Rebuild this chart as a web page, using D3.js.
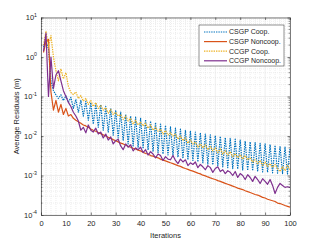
<!DOCTYPE html>
<html>
<head>
<meta charset="utf-8">
<script src="https://cdn.jsdelivr.net/npm/d3@7"></script>
<style>
  body { margin: 0; background: #fff; }
  text { font-family: "Liberation Sans", Arial, sans-serif; fill: #262626; }
</style>
</head>
<body>
<svg id="chart" width="321" height="241"></svg>
<script>
const W = 321, H = 241
const margin = { top: 17.5, left: 41, right: 31, bottom: 26 }

const seriesNames = ['CSGP Coop.', 'CSGP Noncoop.', 'CCGP Coop.', 'CCGP Noncoop.']
const colors = ['#0072BD', '#D95319', '#EDB120', '#7E2F8E']
const dashes = ['1.4,1', null, '1.4,1', null]
const xTicks = [0, 10, 20, 30, 40, 50, 60, 70, 80, 90, 100]
const yTickExp = [-4, -3, -2, -1, 0, 1]

const iterations = d3.range(1, 101)

// CSGP Coop. (dotted blue)
const csgpCoop = [
  1.8, 2.5, 1.6, 0.25, 0.14, 0.11, 0.089, 0.11, 0.079, 0.105,
  0.071, 0.095, 0.05, 0.085, 0.04, 0.08, 0.032, 0.075, 0.025, 0.07,
  0.02, 0.066, 0.0166, 0.062, 0.014, 0.056, 0.0126, 0.05, 0.0105, 0.045,
  0.0089, 0.04, 0.0076, 0.035, 0.0063, 0.032, 0.0056, 0.03, 0.0052, 0.028,
  0.0048, 0.026, 0.0044, 0.024, 0.004, 0.022, 0.0038, 0.02, 0.0035, 0.0186,
  0.0033, 0.017, 0.0032, 0.0158, 0.0029, 0.015, 0.0027, 0.014, 0.0025, 0.0135,
  0.0024, 0.0126, 0.0022, 0.012, 0.0021, 0.0112, 0.00195, 0.0107, 0.00186, 0.0102,
  0.00178, 0.0098, 0.00166, 0.0091, 0.00158, 0.0087, 0.0015, 0.0083, 0.00145, 0.0079,
  0.00138, 0.0074, 0.00135, 0.0071, 0.00132, 0.0068, 0.00126, 0.0065, 0.00123, 0.0063,
  0.0012, 0.006, 0.00117, 0.0058, 0.00115, 0.0055, 0.00112, 0.0052, 0.0011, 0.005
]

// CSGP Noncoop. (solid orange)
const csgpNoncoop = [
  1.3, 2.5, 2.8, 0.13, 0.045, 0.08, 0.04, 0.063, 0.035, 0.05,
  0.032, 0.035, 0.028, 0.025, 0.023, 0.021, 0.019, 0.018, 0.0166, 0.015,
  0.014, 0.0132, 0.0123, 0.0115, 0.0107, 0.01, 0.0093, 0.0087, 0.0081, 0.0076,
  0.0071, 0.0066, 0.0063, 0.0059, 0.0055, 0.0052, 0.0049, 0.0047, 0.0044, 0.0042,
  0.0039, 0.0036, 0.0035, 0.0032, 0.0031, 0.0029, 0.0028, 0.0026, 0.00245, 0.00234,
  0.00222, 0.0021, 0.002, 0.00188, 0.00178, 0.0017, 0.00158, 0.0015, 0.00143, 0.00135,
  0.00129, 0.00122, 0.00115, 0.0011, 0.00102, 9.8e-4, 9.2e-4, 8.7e-4, 8.3e-4, 7.9e-4,
  7.4e-4, 7.1e-4, 6.7e-4, 6.3e-4, 6.0e-4, 5.7e-4, 5.4e-4, 5.1e-4, 4.8e-4, 4.6e-4,
  4.4e-4, 4.1e-4, 3.9e-4, 3.7e-4, 3.5e-4, 3.3e-4, 3.2e-4, 3.0e-4, 2.8e-4, 2.7e-4,
  2.5e-4, 2.4e-4, 2.3e-4, 2.2e-4, 2.0e-4, 1.95e-4, 1.84e-4, 1.74e-4, 1.66e-4, 1.58e-4
]

// CCGP Coop. (dotted yellow)
const ccgpCoop = [
  2.0, 4.5, 1.8, 3.5, 1.0, 0.45, 0.25, 0.5, 0.28, 0.4,
  0.18, 0.126, 0.112, 0.13, 0.089, 0.105, 0.076, 0.089, 0.063, 0.079,
  0.056, 0.07, 0.05, 0.06, 0.045, 0.052, 0.038, 0.047, 0.035, 0.04,
  0.032, 0.035, 0.026, 0.032, 0.024, 0.028, 0.02, 0.025, 0.019, 0.022,
  0.018, 0.021, 0.0158, 0.019, 0.014, 0.0166, 0.0132, 0.015, 0.0112, 0.0138,
  0.0105, 0.012, 0.01, 0.0112, 0.0083, 0.01, 0.0076, 0.0089, 0.0066, 0.0079,
  0.0063, 0.0071, 0.0052, 0.0063, 0.005, 0.006, 0.0045, 0.0054, 0.0042, 0.005,
  0.0038, 0.0047, 0.0035, 0.0042, 0.0033, 0.004, 0.003, 0.0036, 0.0028, 0.0034,
  0.0026, 0.0032, 0.0025, 0.0028, 0.0022, 0.0025, 0.002, 0.0024, 0.0018, 0.0022,
  0.0017, 0.002, 0.0016, 0.0019, 0.0015, 0.00126, 0.00166, 0.00132, 0.0018, 0.0014
]

// CCGP Noncoop. (solid purple)
const ccgpNoncoop = [
  1.4, 4.0, 0.1, 1.0, 0.16, 0.35, 0.45, 0.25, 0.14, 0.1,
  0.071, 0.056, 0.04, 0.032, 0.024, 0.014, 0.0166, 0.012, 0.019, 0.014,
  0.0126, 0.0158, 0.0112, 0.0126, 0.0089, 0.0112, 0.0079, 0.0095, 0.0063, 0.0076,
  0.0083, 0.0056, 0.0045, 0.0063, 0.0052, 0.006, 0.0042, 0.005, 0.0045, 0.0052,
  0.0038, 0.0045, 0.0033, 0.004, 0.0035, 0.0028, 0.0035, 0.0032, 0.0024, 0.003,
  0.0026, 0.0025, 0.0032, 0.0024, 0.002, 0.0026, 0.0022, 0.0025, 0.00178, 0.0021,
  0.0019, 0.0022, 0.00158, 0.0019, 0.00166, 0.0014, 0.00178, 0.00158, 0.0012, 0.0015,
  0.00166, 0.00126, 0.0014, 0.00112, 0.00132, 0.0012, 0.001, 0.00126, 8.9e-4, 0.00112,
  0.001, 7.9e-4, 0.00105, 8.9e-4, 7.1e-4, 9.5e-4, 7.9e-4, 6.3e-4, 8.3e-4, 7.1e-4,
  6.0e-4, 7.9e-4, 5.6e-4, 3.5e-4, 5.0e-4, 6.3e-4, 5.6e-4, 5.0e-4, 5.2e-4, 5.0e-4
]

const allSeries = [csgpCoop, csgpNoncoop, ccgpCoop, ccgpNoncoop]

const axisColor = '#262626'
const font = '"Liberation Sans", Arial, sans-serif'

const svg = d3.select('#chart')
svg.append('rect').attr('width', W).attr('height', H).attr('fill', '#fff')

const x = d3.scaleLinear()
  .domain([0, 100])
  .range([margin.left, W - margin.right])
const y = d3.scaleLog()
  .domain([1e-4, 10])
  .range([H - margin.bottom, margin.top])

const x0 = x.range()[0], x1 = x.range()[1]
const y0 = y.range()[0], y1 = y.range()[1]

// minor grid
const yMinor = []
yTickExp.slice(0, -1).forEach(e => {
  for (let k = 2; k <= 9; k++) yMinor.push(k * Math.pow(10, e))
})
const xMinor = d3.range(0, 101, 2).filter(v => v % 10 !== 0)

const grid = svg.append('g')
grid.selectAll('.ymin').data(yMinor).join('line')
  .attr('x1', x0).attr('x2', x1)
  .attr('y1', d => y(d)).attr('y2', d => y(d))
  .attr('stroke', '#dcdcdc').attr('stroke-width', 0.5)
  .attr('stroke-dasharray', '1,1')
grid.selectAll('.xmin').data(xMinor).join('line')
  .attr('y1', y0).attr('y2', y1)
  .attr('x1', d => x(d)).attr('x2', d => x(d))
  .attr('stroke', '#dcdcdc').attr('stroke-width', 0.5)
  .attr('stroke-dasharray', '1,1')
// major grid
grid.selectAll('.ymaj').data(yTickExp).join('line')
  .attr('x1', x0).attr('x2', x1)
  .attr('y1', d => y(Math.pow(10, d))).attr('y2', d => y(Math.pow(10, d)))
  .attr('stroke', '#e2e2e2').attr('stroke-width', 0.6)
grid.selectAll('.xmaj').data(xTicks).join('line')
  .attr('y1', y0).attr('y2', y1)
  .attr('x1', d => x(d)).attr('x2', d => x(d))
  .attr('stroke', '#e2e2e2').attr('stroke-width', 0.6)

// series
const line = d3.line()
  .x((d, i) => x(iterations[i]))
  .y(d => y(d))

svg.append('g').selectAll('path').data(allSeries).join('path')
  .attr('d', line)
  .attr('fill', 'none')
  .attr('stroke', (d, i) => colors[i])
  .attr('stroke-width', 1.2)
  .attr('stroke-dasharray', (d, i) => dashes[i])
  .attr('stroke-linejoin', 'round')

// axes (ticks inward, box on)
const xAxis = svg.append('g')
  .attr('transform', `translate(0,${y0})`)
  .call(d3.axisBottom(x).tickValues(xTicks).tickSizeInner(-2.5).tickSizeOuter(0).tickPadding(6))
const xTop = svg.append('g')
  .attr('transform', `translate(0,${y1})`)
  .call(d3.axisTop(x).tickValues(xTicks).tickSizeInner(-2.5).tickSizeOuter(0).tickFormat(''))
const yAxis = svg.append('g')
  .attr('transform', `translate(${x0},0)`)
  .call(d3.axisLeft(y).tickValues(yTickExp.map(e => Math.pow(10, e))).tickSizeInner(-2.5).tickSizeOuter(0).tickPadding(5).tickFormat(''))
const yRight = svg.append('g')
  .attr('transform', `translate(${x1},0)`)
  .call(d3.axisRight(y).tickValues(yTickExp.map(e => Math.pow(10, e))).tickSizeInner(-2.5).tickSizeOuter(0).tickFormat(''))

// minor ticks on y sides
const minorTicks = svg.append('g')
;[[x0, 1.5], [x1, -1.5]].forEach(([xx, len]) => {
  minorTicks.append('g').selectAll('line').data(yMinor).join('line')
    .attr('x1', xx).attr('x2', xx + len)
    .attr('y1', d => y(d)).attr('y2', d => y(d))
    .attr('stroke', axisColor).attr('stroke-width', 0.5)
})

;[xAxis, xTop, yAxis, yRight].forEach(g => {
  g.select('.domain').attr('stroke', axisColor).attr('stroke-width', 0.6)
  g.selectAll('.tick line').attr('stroke', axisColor).attr('stroke-width', 0.6)
})
xAxis.selectAll('.tick text')
  .attr('font-size', 7.5)
  .attr('font-family', font)
  .attr('fill', axisColor)

// y tick labels as 10^n
const yLab = yAxis.selectAll('.tick').append('text')
  .attr('x', -4)
  .attr('dy', '0.32em')
  .attr('text-anchor', 'end')
  .attr('fill', axisColor)
  .attr('font-size', 7.5)
  .attr('font-family', font)
yLab.append('tspan').text('10')
yLab.append('tspan')
  .attr('font-size', 5.2)
  .attr('dy', '-0.7em')
  .text(d => String(Math.round(Math.log10(d))))

// axis labels
svg.append('text')
  .attr('x', (x0 + x1) / 2)
  .attr('y', 238)
  .attr('text-anchor', 'middle')
  .attr('font-size', 7.5)
  .attr('font-family', font)
  .attr('fill', axisColor)
  .text('Iterations')
svg.append('text')
  .attr('transform', `translate(19,${(y0 + y1) / 2}) rotate(-90)`)
  .attr('text-anchor', 'middle')
  .attr('font-size', 7.5)
  .attr('font-family', font)
  .attr('fill', axisColor)
  .text('Average Residuals (m)')

// legend
const legend = svg.append('g')
legend.append('rect')
  .attr('x', 199).attr('y', 25)
  .attr('width', 85).attr('height', 41)
  .attr('fill', '#fff')
  .attr('stroke', axisColor)
  .attr('stroke-width', 0.5)
const items = legend.selectAll('.item').data(seriesNames).join('g')
  .attr('transform', (d, i) => `translate(0,${32 + i * 9.6})`)
items.append('line')
  .attr('x1', 204).attr('x2', 227)
  .attr('stroke', (d, i) => colors[i])
  .attr('stroke-width', 1.2)
  .attr('stroke-dasharray', (d, i) => dashes[i])
items.append('text')
  .attr('x', 229)
  .attr('dy', '0.35em')
  .attr('font-size', 7)
  .attr('font-family', font)
  .attr('fill', axisColor)
  .text(d => d)
</script>
</body>
</html>
